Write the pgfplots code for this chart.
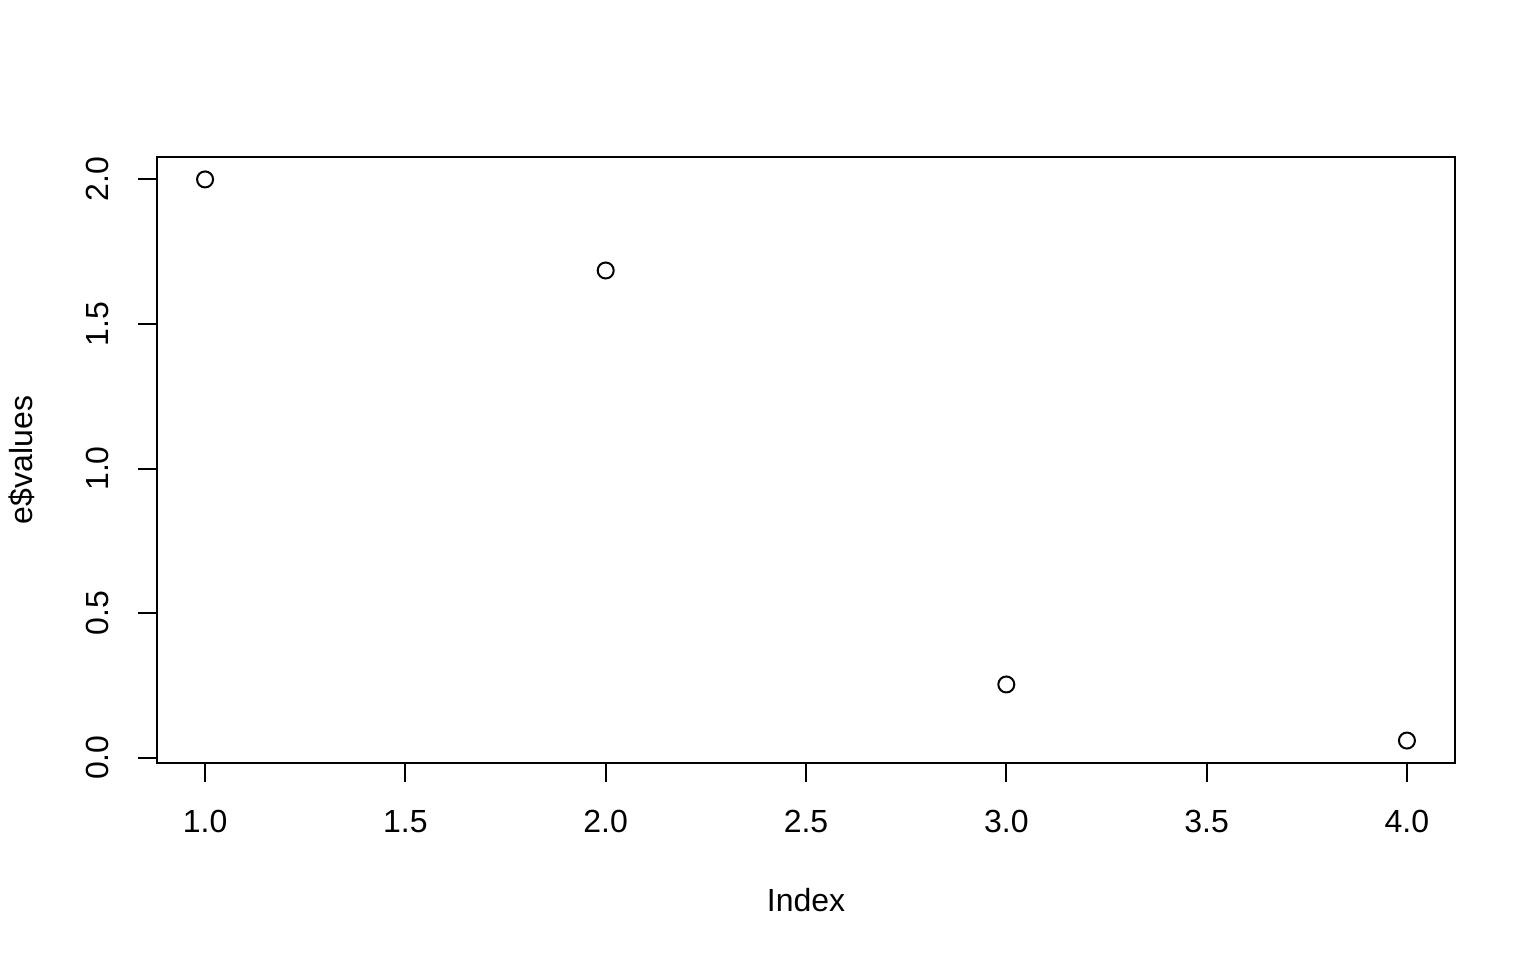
\documentclass[border=0pt]{standalone}
\usepackage{pgfplots}
\pgfplotsset{compat=1.18}
\usepackage{fontspec}
\setmainfont{Liberation Sans}
\begin{document}
\fontsize{16bp}{19bp}\selectfont
\begin{tikzpicture}
\path[use as bounding box] (0,0) rectangle (768bp,480bp);
\begin{axis}[
  at={(78.5bp,98.5bp)}, anchor=south west,
  scale only axis, width=649bp, height=303bp,
  xmin=0.88, xmax=4.12, ymin=-0.0186, ymax=2.0776,
  xtick={1,1.5,2,2.5,3,3.5,4},
  xticklabels={1.0,1.5,2.0,2.5,3.0,3.5,4.0},
  ytick={0,0.5,1,1.5,2},
  yticklabels={0.0,0.5,1.0,1.5,2.0},
  xtick pos=bottom, ytick pos=left,
  tick align=outside,
  major tick length=9.5bp,
  every tick/.style={black, line width=1bp},
  axis line style={line width=1bp},
  xticklabel style={anchor=base, yshift=-25.3bp},
  yticklabel style={anchor=base, xshift=-14.7bp, rotate=90},
  every axis x label/.style={at={(axis description cs:0.5,0)}, anchor=center, yshift=-68.5bp},
  every axis y label/.style={at={(axis description cs:0,0.5)}, anchor=center, xshift=-67.5bp, rotate=90},
  xlabel={Index},
  ylabel={e\$values},
  /pgf/number format/assume math mode=true,
  clip=false,
]
\addplot[only marks, mark=o, mark size=4bp, line width=1bp, black] coordinates {
  (1,2.0) (2,1.685) (3,0.253) (4,0.059)
};
\end{axis}
\end{tikzpicture}
\end{document}
